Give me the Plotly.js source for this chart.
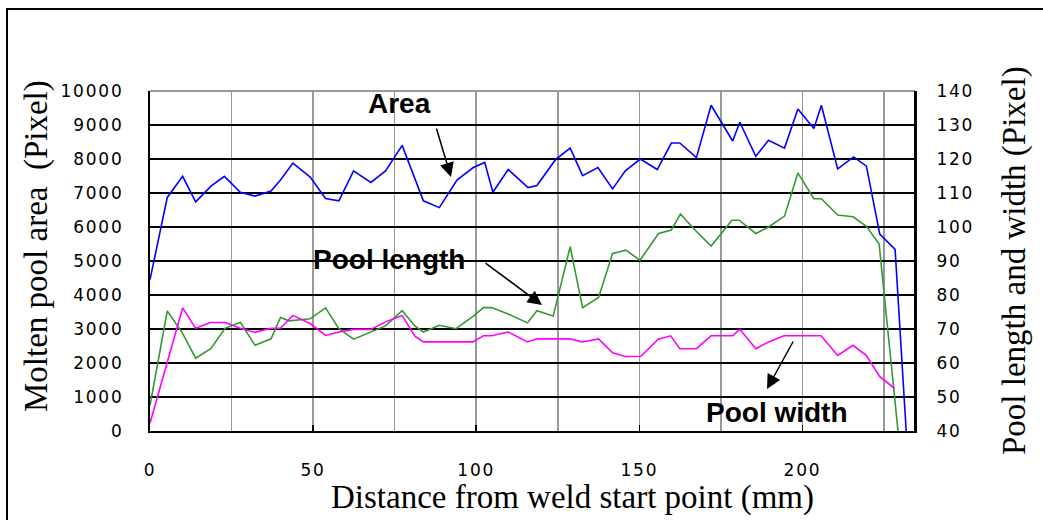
<!DOCTYPE html>
<html>
<head>
<meta charset="utf-8">
<script src="https://cdn.plot.ly/plotly-3.0.1.min.js"></script>
<style>
html,body{margin:0;padding:0;background:#fff;}
#chart{width:1043px;height:520px;}
.xtick text, .ytick text, .y2tick text {letter-spacing: 1.8px;}
</style>
</head>
<body>
<div id="chart"></div>
<script>
// Molten pool area (left axis, Pixel)
const xArea = [0, 5.3, 10, 14, 18.7, 22.8, 27.7, 32.2, 37.1, 40, 43.8, 49.1, 53.8, 57.9, 62.4, 67.7, 72.2, 77.3, 83.8, 88.7, 94.1, 99.1, 102.6, 105.1, 109.8, 115.9, 118.6, 124.3, 128.8, 132.6, 137.3, 141.8, 145.7, 150.3, 155.5, 159.8, 162.4, 167.5, 172, 178.6, 180.8, 185.7, 189.6, 194.5, 198.6, 203.5, 205.8, 210.8, 215.7, 219.6, 223.7, 228.4, 231.8];
const area = [4450, 6870, 7490, 6740, 7200, 7490, 7020, 6910, 7060, 7380, 7880, 7470, 6840, 6770, 7650, 7310, 7650, 8400, 6770, 6570, 7380, 7750, 7900, 7020, 7690, 7160, 7220, 7980, 8320, 7510, 7750, 7120, 7650, 8000, 7690, 8470, 8470, 8040, 9580, 8530, 9080, 8080, 8550, 8320, 9470, 8900, 9580, 7710, 8060, 7790, 5790, 5340, 0];

// Pool length (right axis, Pixel)
const xLength = [0, 5.3, 10, 14, 18.7, 23, 27.7, 32.2, 37.1, 40, 42.6, 49.1, 53.8, 57.9, 62.4, 67.7, 72.2, 77.3, 81.2, 83.8, 88.7, 93.8, 99.1, 102.2, 104.7, 109.8, 115.7, 118.6, 123.6, 128.8, 132.6, 137.5, 141.8, 145.9, 150.2, 155.9, 159.8, 162.6, 167.3, 172, 178.4, 180.6, 185.7, 189.6, 194.5, 198.6, 203.5, 205.8, 210.8, 215.5, 219.6, 223.5, 229.5];
const poolLength = [47.5, 75.3, 68.7, 61.4, 64.3, 70.2, 72.0, 65.2, 67.1, 73.4, 72.4, 73.0, 76.2, 70.1, 67.0, 69.1, 70.9, 75.4, 70.9, 69.1, 71.1, 70.1, 73.8, 76.3, 76.3, 74.4, 71.8, 75.4, 73.8, 94.2, 76.3, 79.3, 92.2, 93.2, 90.2, 98.1, 99.1, 103.8, 98.9, 94.4, 102.0, 102.0, 98.1, 100.0, 103.2, 115.9, 108.3, 108.3, 103.5, 103.0, 100.2, 95.0, 38];

// Pool width (right axis, Pixel)
const xWidth = [0, 5.3, 10, 14, 18.5, 23, 27.7, 32.2, 37.1, 40, 43.8, 49.1, 53.8, 57.9, 62.4, 67.7, 72.2, 77.3, 81.2, 83.8, 88.7, 93.8, 99, 102.2, 104.7, 109.8, 115.7, 118.6, 123.6, 128.8, 132.4, 137.5, 141.8, 145.7, 150.5, 155.8, 159.6, 162.4, 167.5, 172, 178.6, 180.8, 185.7, 189.6, 194.3, 198.6, 205.7, 210.8, 215.5, 219.6, 223.7, 228.3];
const poolWidth = [42.3, 60.4, 76.2, 70.2, 71.9, 71.9, 70.2, 69.0, 70.2, 70.2, 74.0, 71.6, 68.1, 69.1, 69.9, 69.9, 72.1, 74.0, 67.9, 66.2, 66.2, 66.2, 66.2, 68.0, 68.0, 69.1, 66.2, 67.1, 67.1, 67.1, 66.2, 67.1, 63.0, 61.9, 62.0, 67.0, 68.0, 64.2, 64.2, 68.0, 68.0, 69.9, 64.2, 66.2, 68.0, 68.0, 68.0, 62.2, 65.2, 62.2, 56.0, 52.5];

const xTickVals = [0, 50, 100, 150, 200];
const xMinorVals = [25, 75, 125, 175, 225];
const leftTickVals = [0,1000,2000,3000,4000,5000,6000,7000,8000,9000,10000];
const rightTickVals = [40,50,60,70,80,90,100,110,120,130,140];

const xTitle = 'Distance from weld start point (mm)';
const leftTitle = 'Molten pool area  (Pixel)';
const rightTitle = 'Pool length and width (Pixel)';

const L = 150, R = 915, T = 91, B = 431;
const PX = p => (p - L) / (R - L);
const PY = p => (B - p) / (B - T);

const tickFont = {family: 'DejaVu Sans, Liberation Sans, sans-serif', size: 17, color: '#000'};
const serif = {family: 'Liberation Serif, Times New Roman, serif', size: 33, color: '#000'};
const bold = {family: 'Liberation Sans, Arial, sans-serif', size: 28, color: '#000', weight: 'bold'};

const traces = [
  {x: xArea, y: area, type: 'scatter', mode: 'lines', name: 'Area', line: {color: '#0000ff', width: 1.6}, yaxis: 'y'},
  {x: xLength, y: poolLength, type: 'scatter', mode: 'lines', name: 'Pool length', line: {color: '#339933', width: 1.6}, yaxis: 'y2'},
  {x: xWidth, y: poolWidth, type: 'scatter', mode: 'lines', name: 'Pool width', line: {color: '#ff00ff', width: 1.6}, yaxis: 'y2'}
];

const layout = {
  width: 1043, height: 520,
  margin: {l: L, r: 1043 - R, t: T, b: 520 - B, pad: 0},
  paper_bgcolor: '#fff', plot_bgcolor: '#fff',
  showlegend: false,
  xaxis: {
    range: [0, 234.5], tickvals: xTickVals, ticktext: xTickVals.map(String),
    showgrid: true, gridcolor: '#999', gridwidth: 1.5,
    minor: {tickmode: 'array', tickvals: xMinorVals, showgrid: true, gridcolor: '#999', gridwidth: 1.5, ticks: ''},
    ticks: 'inside', ticklen: 6, tickwidth: 1.5, tickcolor: '#000',
    showline: true, linecolor: '#000', linewidth: 2,
    zeroline: false, tickfont: tickFont, ticklabelstandoff: 23, fixedrange: true
  },
  yaxis: {
    range: [0, 10000], tickvals: leftTickVals, ticktext: leftTickVals.map(String),
    showgrid: true, gridcolor: '#000', gridwidth: 1.5,
    ticks: '', showline: true, linecolor: '#000', linewidth: 2,
    zeroline: false, tickfont: tickFont, ticklabelstandoff: 21, fixedrange: true
  },
  yaxis2: {
    overlaying: 'y', side: 'right',
    range: [40, 140], tickvals: rightTickVals, ticktext: rightTickVals.map(String),
    showgrid: false, ticks: '', showline: true, linecolor: '#000', linewidth: 2,
    zeroline: false, tickfont: tickFont, ticklabelstandoff: 16, fixedrange: true
  },
  shapes: [
    {type: 'line', xref: 'paper', yref: 'paper', x0: 0, x1: 1, y0: 1, y1: 1, line: {color: '#999', width: 2}, layer: 'above'},
    {type: 'line', xref: 'paper', yref: 'paper', x0: 1, x1: 1, y0: 0, y1: 1, line: {color: '#000', width: 2}, layer: 'above'},
    {type: 'rect', xref: 'paper', yref: 'paper', x0: PX(7), x1: PX(1200), y0: PY(9), y1: PY(700), line: {color: '#000', width: 2}, fillcolor: 'rgba(0,0,0,0)', layer: 'below'}
  ],
  annotations: [
    {xref: 'paper', yref: 'paper', x: PX(572), y: PY(497), text: xTitle, showarrow: false, font: serif, xanchor: 'center', yanchor: 'middle'},
    {xref: 'paper', yref: 'paper', x: PX(36), y: PY(246), text: leftTitle, showarrow: false, font: serif, textangle: -90, xanchor: 'center', yanchor: 'middle'},
    {xref: 'paper', yref: 'paper', x: PX(1014), y: PY(261), text: rightTitle, showarrow: false, font: serif, textangle: -90, xanchor: 'center', yanchor: 'middle'},
    {xref: 'paper', yref: 'paper', x: PX(399), y: PY(104), text: 'Area', showarrow: false, font: bold, xanchor: 'center', yanchor: 'middle'},
    {xref: 'paper', yref: 'paper', x: PX(389), y: PY(259), text: 'Pool length', showarrow: false, font: bold, xanchor: 'center', yanchor: 'middle'},
    {xref: 'paper', yref: 'paper', x: PX(777), y: PY(412), text: 'Pool width', showarrow: false, font: bold, xanchor: 'center', yanchor: 'middle'},
    {xref: 'paper', yref: 'paper', x: PX(451), y: PY(177), text: '', showarrow: true, axref: 'pixel', ayref: 'pixel', ax: -15, ay: -50, arrowhead: 2, arrowsize: 1.9, arrowwidth: 1.5, arrowcolor: '#000', standoff: 0, startstandoff: 0},
    {xref: 'paper', yref: 'paper', x: PX(542), y: PY(305), text: '', showarrow: true, axref: 'pixel', ayref: 'pixel', ax: -58, ay: -43, arrowhead: 2, arrowsize: 1.9, arrowwidth: 1.5, arrowcolor: '#000', standoff: 0, startstandoff: 0},
    {xref: 'paper', yref: 'paper', x: PX(767), y: PY(389), text: '', showarrow: true, axref: 'pixel', ayref: 'pixel', ax: 27, ay: -49, arrowhead: 2, arrowsize: 1.9, arrowwidth: 1.5, arrowcolor: '#000', standoff: 0, startstandoff: 0}
  ]
};

Plotly.newPlot('chart', traces, layout, {displayModeBar: false, staticPlot: true});
</script>
</body>
</html>
